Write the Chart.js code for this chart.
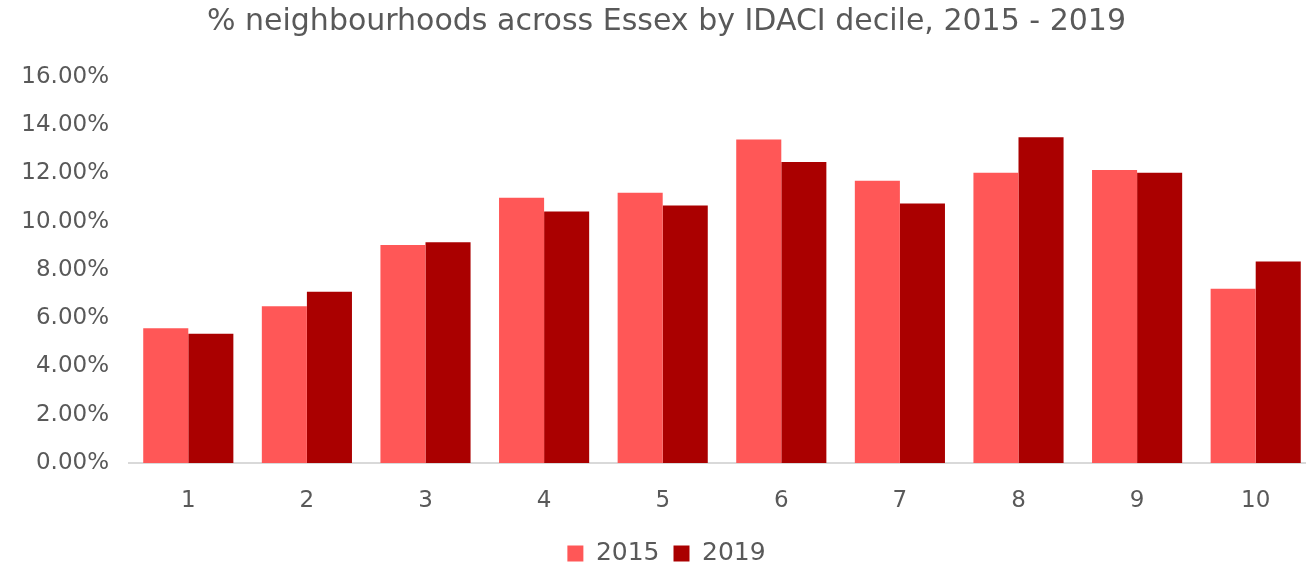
<!DOCTYPE html>
<html lang="en">
  <head>
    <meta charset="UTF-8" />
    <title>IDACI decile</title>
    <script src="https://cdn.jsdelivr.net/npm/chart.js"></script>
    <style>
      body { margin: 0; overflow: hidden; background: #fff; }
      #wrap { width: 1344px; height: 566px; }
    </style>
  </head>
  <body>
    <div id="wrap"><canvas id="barChart"></canvas></div>
    <script>
      // deciles and share of neighbourhoods (%)
      var deciles = ["1", "2", "3", "4", "5", "6", "7", "8", "9", "10"];
      var values2015 = [5.59, 6.5, 9.04, 11.0, 11.2, 13.41, 11.7, 12.03, 12.14, 7.22];
      var values2019 = [5.36, 7.1, 9.15, 10.42, 10.67, 12.48, 10.76, 13.5, 12.03, 8.35];
      var yTicks = [0, 2, 4, 6, 8, 10, 12, 14, 16];

      var grey = "#595959";
      var font = "'DejaVu Sans', sans-serif";

      var ctx = document.getElementById("barChart").getContext("2d");
      new Chart(ctx, {
        type: "bar",
        data: {
          labels: deciles,
          datasets: [
            { label: "2015", data: values2015, backgroundColor: "#FF5757", borderWidth: 0 },
            { label: "2019", data: values2019, backgroundColor: "#AA0000", borderWidth: 0 },
          ],
        },
        options: {
          responsive: true,
          maintainAspectRatio: false,
          animation: false,
          layout: { padding: { left: 18, right: 29, top: 0, bottom: -10 } },
          datasets: { bar: { categoryPercentage: 0.76, barPercentage: 1.0 } },
          plugins: {
            title: {
              display: true,
              text: "% neighbourhoods across Essex by IDACI decile, 2015 - 2019",
              color: grey,
              font: { family: font, size: 30, weight: "normal" },
              padding: { top: 4, bottom: 37 },
            },
            legend: {
              position: "bottom",
              labels: {
                color: grey,
                font: { family: font, size: 25 },
                boxWidth: 16,
                boxHeight: 16,
                padding: 14,
              },
            },
            tooltip: { enabled: false },
          },
          scales: {
            x: {
              afterFit: function (scale) { scale.height = 64; },
              grid: { display: false, drawTicks: false },
              border: { color: "#D9D9D9", width: 2 },
              ticks: { color: grey, font: { family: font, size: 23 }, padding: 24 },
            },
            y: {
              min: 0,
              max: 16,
              afterFit: function (scale) { scale.width = 111; },
              afterBuildTicks: function (scale) {
                scale.ticks = yTicks.map(function (v) { return { value: v }; });
              },
              grid: { display: false, drawTicks: false },
              border: { display: false },
              ticks: {
                color: grey,
                font: { family: font, size: 23 },
                padding: 20,
                callback: function (v) { return v.toFixed(2) + "%"; },
              },
            },
          },
        },
      });
    </script>
  </body>
</html>
